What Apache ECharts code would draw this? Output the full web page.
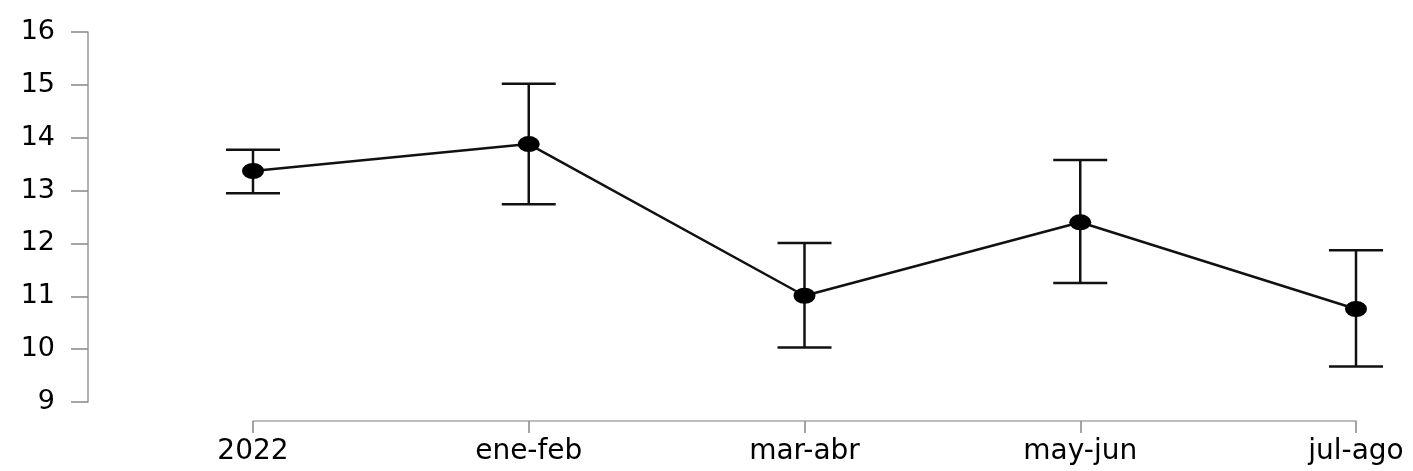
<!DOCTYPE html>
<html>
<head>
<meta charset="utf-8">
<script src="https://cdn.jsdelivr.net/npm/echarts@6/dist/echarts.min.js"></script>
<style>html,body{margin:0;padding:0;background:#fff}#c{width:1413px;height:471px}</style>
</head>
<body>
<div id="c"></div>
<script>
const categories = ['2022', 'ene-feb', 'mar-abr', 'may-jun', 'jul-ago'];
const means = [13.37, 13.88, 11.01, 12.40, 10.76];
const lower = [12.95, 12.74, 10.03, 11.25, 9.67];
const upper = [13.77, 15.02, 12.01, 13.58, 11.87];
const yTicks = [9, 10, 11, 12, 13, 14, 15, 16];

const FONT = 'DejaVu Sans';
const chart = echarts.init(document.getElementById('c'), null, {renderer: 'canvas'});
const errData = categories.map((c, i) => [i, lower[i], upper[i]]);

chart.setOption({
  animation: false,
  backgroundColor: '#fff',
  grid: [
    {left: 88, top: 32, bottom: 69, width: 1},
    {left: 253, right: 57, top: 32, bottom: 69}
  ],
  xAxis: [
    {gridIndex: 0, type: 'value', show: false},
    {
      gridIndex: 1, type: 'category', data: categories, boundaryGap: false,
      offset: 19,
      axisLine: {lineStyle: {color: '#a8a8a8', width: 1.5}},
      axisTick: {length: 12, lineStyle: {color: '#888', width: 1.5}},
      axisLabel: {color: '#000', fontFamily: FONT, fontSize: 28, margin: 17},
      splitLine: {show: false}
    }
  ],
  yAxis: [
    {
      gridIndex: 0, type: 'value', min: yTicks[0], max: yTicks[yTicks.length - 1], interval: 1,
      axisLine: {show: true, lineStyle: {color: '#999', width: 1.5}},
      axisTick: {show: true, length: 17, lineStyle: {color: '#888', width: 1.5}},
      axisLabel: {color: '#000', fontFamily: FONT, fontSize: 27, margin: 33},
      splitLine: {show: false}
    },
    {
      gridIndex: 1, type: 'value', min: yTicks[0], max: yTicks[yTicks.length - 1], interval: 1,
      show: false, splitLine: {show: false}
    }
  ],
  series: [
    {
      type: 'custom',
      xAxisIndex: 1, yAxisIndex: 1,
      data: errData,
      z: 2,
      renderItem: function (params, api) {
        const x = api.value(0);
        const lo = api.coord([x, api.value(1)]);
        const hi = api.coord([x, api.value(2)]);
        const hw = 27;
        const st = {stroke: '#111', lineWidth: 2.5};
        return {
          type: 'group',
          children: [
            {type: 'line', shape: {x1: lo[0], y1: lo[1], x2: hi[0], y2: hi[1]}, style: st},
            {type: 'line', shape: {x1: lo[0] - hw, y1: lo[1], x2: lo[0] + hw, y2: lo[1]}, style: st},
            {type: 'line', shape: {x1: hi[0] - hw, y1: hi[1], x2: hi[0] + hw, y2: hi[1]}, style: st}
          ]
        };
      }
    },
    {
      type: 'line',
      xAxisIndex: 1, yAxisIndex: 1,
      data: means,
      z: 3,
      symbol: 'circle',
      symbolSize: [22, 16],
      itemStyle: {color: '#000'},
      lineStyle: {color: '#111', width: 2.5}
    }
  ]
});
</script>
</body>
</html>
